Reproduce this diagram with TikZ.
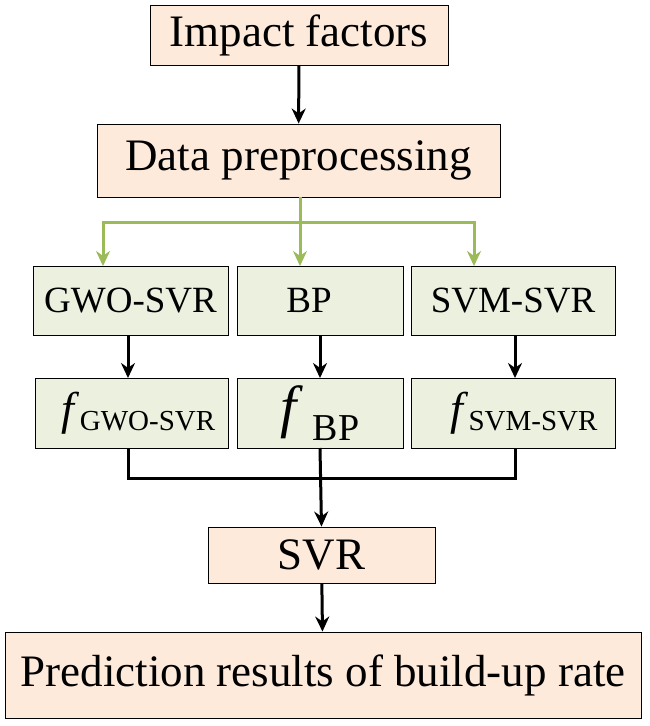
\documentclass[tikz,border=0pt]{standalone}
\usepackage{fontspec}
\setmainfont{Liberation Serif}
\usetikzlibrary{arrows.meta}
\definecolor{pch}{HTML}{FDEADB}
\definecolor{mnt}{HTML}{EBF1DE}
\definecolor{grn}{HTML}{9BBB59}
\begin{document}
\begin{tikzpicture}[x=1pt,y=-1pt,
 peach/.style={draw=black,fill=pch,line width=0.9pt,inner sep=0},
 mint/.style={draw=black,fill=mnt,line width=0.9pt,inner sep=0},
 arr/.style={line width=3pt,-{Stealth[length=15pt,width=14pt]}},
 garr/.style={line width=3pt,draw=grn,-{Stealth[length=15pt,width=14pt]}},
 ln/.style={line width=3pt}]
\useasboundingbox (0,0) rectangle (650,726);
\node[peach,minimum width=298,minimum height=60,font=\fontsize{45}{48}\selectfont] (imp) at (299,35) {Impact factors};
\node[peach,minimum width=403,minimum height=73,font=\fontsize{45}{48}\selectfont] (dp) at (298.5,160.5) {Data preprocessing};
\node[mint,minimum width=195,minimum height=69,font=\fontsize{37}{40}\selectfont] (g) at (130.5,300.5) {GWO-SVR};
\node[mint,minimum width=166,minimum height=69,font=\fontsize{37}{40}\selectfont] (b) at (320,300.5) {\hspace*{-22pt}BP};
\node[mint,minimum width=204,minimum height=69,font=\fontsize{37}{40}\selectfont] (s) at (513,300.5) {SVM-SVR};
\node[mint,minimum width=193,minimum height=70,font=\fontsize{46}{48}\selectfont] (fg) at (131.5,413) {\hspace*{14pt}\textit{f}\raisebox{-6pt}{\fontsize{29}{30}\selectfont GWO-SVR}};
\node[mint,minimum width=166,minimum height=70,font=\fontsize{58}{60}\selectfont] (fb) at (320,413) {\textit{f}\,\raisebox{-14pt}{\fontsize{38}{40}\selectfont BP}};
\node[mint,minimum width=204,minimum height=70,font=\fontsize{46}{48}\selectfont] (fs) at (513,413) {\hspace*{22pt}\textit{f}\raisebox{-6pt}{\fontsize{29}{30}\selectfont SVM-SVR}};
\node[peach,minimum width=227,minimum height=56,font=\fontsize{45}{48}\selectfont] (svr) at (321.5,555) {SVR};
\node[peach,minimum width=636,minimum height=86,font=\fontsize{45}{48}\selectfont] (pr) at (323,675) {Prediction results of build-up rate};
\draw[arr] (imp) -- (dp);
\coordinate (gj) at (300,222);
\draw[ln,draw=grn] (dp.south -| gj) -- (gj);
\draw[garr] (gj) -| (103,266);
\draw[garr] (gj) -- (300,266);
\draw[garr] (gj) -| (474,266);
\draw[arr] (128,335) -- (128,378);
\draw[arr] (320,335) -- (320,378);
\draw[arr] (515,335) -- (515,378);
\draw[ln] (128,448) |- (515,478) -- (515,448);
\draw[arr] (320,448) -- (svr.north);
\draw[arr] (svr) -- (pr);
\end{tikzpicture}
\end{document}
